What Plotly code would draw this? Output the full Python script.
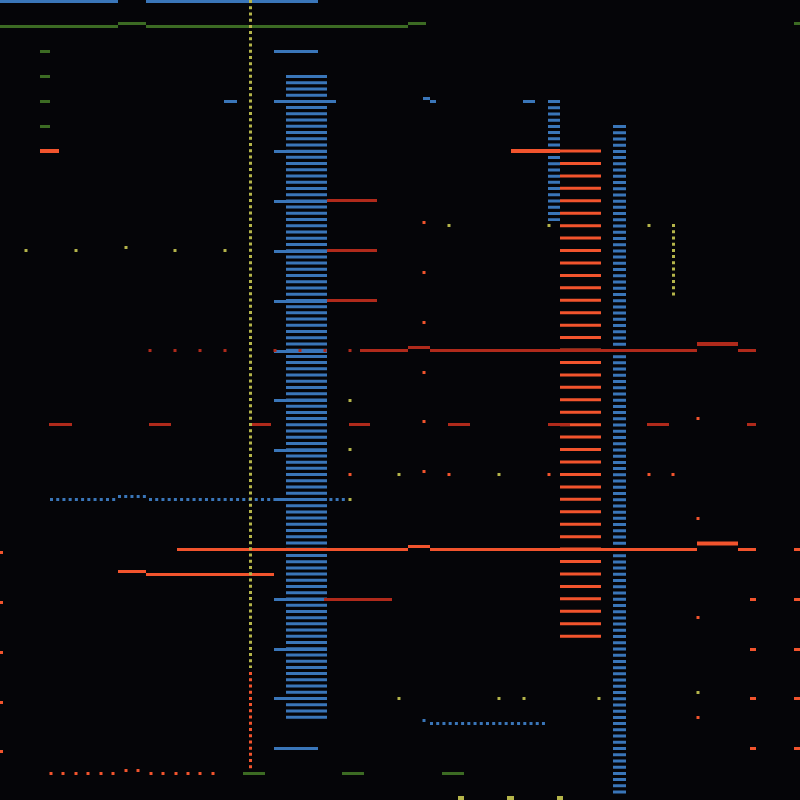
import plotly.graph_objects as go

# ---------------- data (pixel units) ----------------
# segments: [x_start, x_end, y]
blue_segments = [
    [0, 118, 1.5], [146, 318, 1.5],
    [274, 318, 51.5], [274, 336, 101.5], [274, 327, 151.5], [274, 327, 201.5],
    [274, 327, 251.5], [274, 327, 301.5], [274, 327, 351.5], [274, 327, 400.5],
    [274, 327, 450.5], [274, 327, 499.5], [274, 327, 549.5], [274, 327, 599.5],
    [274, 327, 649.5], [274, 327, 698.5], [274, 318, 748.5],
    [224, 237, 101.5], [423, 430, 98.5], [430, 436, 101.5], [523, 535, 101.5],
]
# bar columns: [x_left, x_right, y_first, y_last]
blue_columns = [[286, 327, 75, 720], [613, 626, 125, 794], [548, 560, 100, 221]]
orange_columns = [[560, 601, 149.5, 638]]
# dotted runs: [x_start, x_end, y]
blue_dotted = [[50, 118, 499.5], [118, 147, 496.5], [149, 346, 499.5], [430, 546, 723.5]]
blue_dots_x = [424]
blue_dots_y = [720.5]

green_segments = [
    [0, 118, 26.5], [146, 408, 26.5], [118, 146, 23.5], [408, 426, 23.5], [794, 800, 23.5],
    [40, 50, 51.5], [40, 50, 76.5], [40, 50, 101.5], [40, 50, 126.5],
    [243, 265, 773.5], [342, 364, 773.5], [442, 464, 773.5],
]

darkred_segments = [
    [360, 408, 350.5], [430, 697, 350.5], [738, 756, 350.5], [408, 430, 347.5],
    [327, 377, 200.5], [327, 377, 250.5], [327, 377, 300.5], [324, 392, 599.5],
    [49, 72, 424.5], [149, 171, 424.5], [249, 271, 424.5], [349, 370, 424.5],
    [448, 470, 424.5], [548, 570, 424.5], [647, 669, 424.5], [747, 756, 424.5],
]
darkred_thick = [[697, 738, 344]]
darkred_dots_x = [150, 175, 200, 225, 275, 300, 325, 350]
darkred_dots_y = [350.5] * 8

orange_segments = [
    [177, 408, 549.5], [430, 697, 549.5], [738, 756, 549.5], [794, 800, 549.5],
    [408, 430, 546.5], [146, 274, 574.5], [118, 146, 571.5],
    [0, 3, 552.5], [0, 3, 602.5], [0, 3, 652.5], [0, 3, 702.5], [0, 3, 751.5],
    [750, 756, 599.5], [750, 756, 649.5], [750, 756, 698.5], [750, 756, 748.5],
    [794, 800, 599.5], [794, 800, 649.5], [794, 800, 698.5], [794, 800, 748.5],
]
orange_thick = [[40, 59, 151], [511, 560, 151], [697, 738, 543.5]]
orange_dots_x = [424, 424, 424, 424, 424, 424, 350, 449, 549, 649, 673, 698, 698, 698, 698,
                 51, 63, 76, 88, 101, 113, 126, 138, 151, 163, 176, 188, 200, 213]
orange_dots_y = [222.5, 272.5, 322.5, 372.5, 421.5, 471.5, 474.5, 474.5, 474.5, 474.5, 474.5,
                 418.5, 518.5, 617.5, 717.5,
                 773.5, 773.5, 773.5, 773.5, 773.5, 773.5, 770.5, 770.5, 773.5, 773.5,
                 773.5, 773.5, 773.5, 773.5]
# vertical dotted runs: [x, y_start, y_end]
yellow_vdotted = [[250.5, 0, 668], [673.5, 224, 297]]
orange_vdotted = [[250.5, 672, 770]]
yellow_dots_x = [26, 76, 126, 175, 225, 449, 549, 649, 350, 350, 350, 399, 499,
                 399, 499, 524, 599, 698]
yellow_dots_y = [250.5, 250.5, 247.5, 250.5, 250.5, 225.5, 225.5, 225.5, 400.5, 449.5, 499.5,
                 474.5, 474.5, 698.5, 698.5, 698.5, 698.5, 692.5]
yellow_segments = [[458, 464, 798], [507, 514, 798], [557, 563, 798]]

# ---------------- styles ----------------
BG = "#050508"
BLUE = "#3a76b9"
GREEN = "#3c6b23"
DARKRED = "#b02a1b"
ORANGE = "#f2542d"
YELLOW = "#b5b54a"
DOT_DASH = "3px,3.22px"


def hseg(segs):
    xs, ys = [], []
    for x0, x1, y in segs:
        xs += [x0, x1, None]
        ys += [y, y, None]
    return xs, ys


fig = go.Figure()


def add_h(segs, color, width, dash="solid"):
    xs, ys = hseg(segs)
    fig.add_trace(go.Scatter(x=xs, y=ys, mode="lines",
                             line=dict(color=color, width=width, dash=dash),
                             hoverinfo="skip", showlegend=False))


def add_v(items, color, width, dash):
    for x, y0, y1 in items:
        fig.add_trace(go.Scatter(x=[x, x], y=[y0, y1], mode="lines",
                                 line=dict(color=color, width=width, dash=dash),
                                 hoverinfo="skip", showlegend=False))


def add_cols(cols, color, dash):
    for xl, xr, y0, y1 in cols:
        fig.add_trace(go.Scatter(x=[(xl + xr) / 2] * 2, y=[y0, y1], mode="lines",
                                 line=dict(color=color, width=xr - xl, dash=dash),
                                 hoverinfo="skip", showlegend=False))


def add_dots(xs, ys, color, size):
    fig.add_trace(go.Scatter(x=xs, y=ys, mode="markers",
                             marker=dict(color=color, size=size, symbol="square",
                                         line=dict(width=0)),
                             hoverinfo="skip", showlegend=False))


add_cols(blue_columns, BLUE, "3px,3.22px")
add_h(blue_segments, BLUE, 3)
add_h(blue_dotted, BLUE, 3, DOT_DASH)
add_dots(blue_dots_x, blue_dots_y, BLUE, 3)
add_h(green_segments, GREEN, 3)
add_cols(orange_columns, ORANGE, "3px,9.44px")
add_h(darkred_segments, DARKRED, 3)
add_h(darkred_thick, DARKRED, 4)
add_dots(darkred_dots_x, darkred_dots_y, DARKRED, 3)
add_h(orange_segments, ORANGE, 3)
add_h(orange_thick, ORANGE, 4)
add_dots(orange_dots_x, orange_dots_y, ORANGE, 3)
add_v(yellow_vdotted, YELLOW, 3, DOT_DASH)
add_v(orange_vdotted, ORANGE, 3, DOT_DASH)
add_dots(yellow_dots_x, yellow_dots_y, YELLOW, 3)
add_h(yellow_segments, YELLOW, 4)

fig.update_layout(
    width=800, height=800,
    margin=dict(l=0, r=0, t=0, b=0, pad=0),
    paper_bgcolor=BG, plot_bgcolor=BG,
    xaxis=dict(range=[0, 800], visible=False, fixedrange=True),
    yaxis=dict(range=[800, 0], visible=False, fixedrange=True),
    showlegend=False,
)

fig.write_html("out.html", config={"displayModeBar": False})
